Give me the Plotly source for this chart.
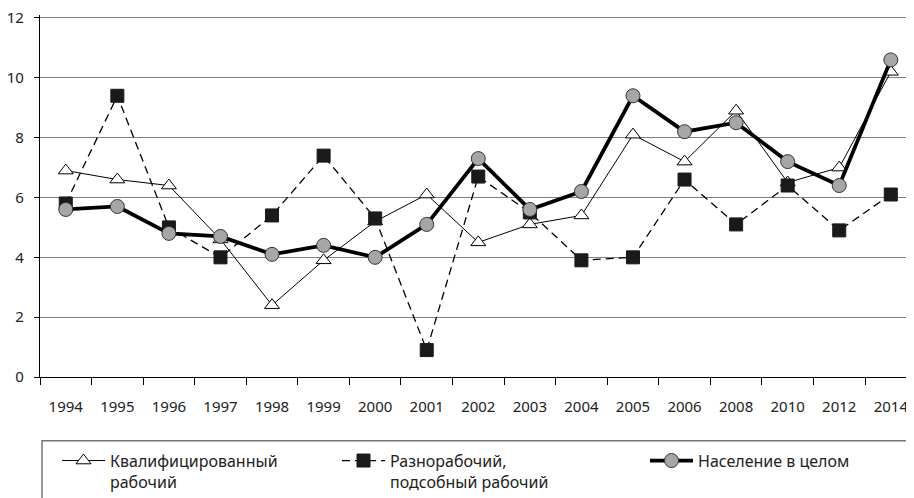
import plotly.graph_objects as go

years = ["1994", "1995", "1996", "1997", "1998", "1999", "2000", "2001", "2002",
         "2003", "2004", "2005", "2006", "2008", "2010", "2012", "2014"]
skilled = [6.9, 6.6, 6.4, 4.6, 2.4, 3.9, 5.2, 6.1, 4.5, 5.1, 5.4, 8.1, 7.2, 8.9, 6.5, 7.0, 10.2]
unskilled = [5.8, 9.4, 5.0, 4.0, 5.4, 7.4, 5.3, 0.9, 6.7, 5.5, 3.9, 4.0, 6.6, 5.1, 6.4, 4.9, 6.1]
population = [5.6, 5.7, 4.8, 4.7, 4.1, 4.4, 4.0, 5.1, 7.3, 5.6, 6.2, 9.4, 8.2, 8.5, 7.2, 6.4, 10.6]
yticks = [0, 2, 4, 6, 8, 10, 12]

name1 = "Квалифицированный<br>рабочий"
name2 = "Разнорабочий,<br>подсобный рабочий"
name3 = "Население в целом"

FONT = "Noto Sans"

fig = go.Figure()
fig.add_trace(go.Scatter(
    x=years, y=skilled, mode="lines+markers", name=name1, legend="legend",
    line=dict(color="black", width=1),
    marker=dict(symbol="triangle-up", size=13, color="white", line=dict(color="black", width=1)),
))
fig.add_trace(go.Scatter(
    x=years, y=unskilled, mode="lines+markers", name=name2, legend="legend2",
    line=dict(color="black", width=1.3, dash="8px,5px"),
    marker=dict(symbol="square", size=13, color="#1a1a1a", line=dict(color="#1a1a1a", width=1)),
))
fig.add_trace(go.Scatter(
    x=years, y=population, mode="lines+markers", name=name3, legend="legend3",
    line=dict(color="black", width=3.8),
    marker=dict(symbol="circle", size=14, color="#a6a6a6", line=dict(color="#333333", width=1)),
))

# plot area geometry in on-screen pixels (page has an 8px body offset)
X0, X1 = 40.0, 914.0          # left / right edge of plot area
Y_TOP, Y_BOT = 15.0, 377.3    # top / bottom edge of plot area

def px2paper_x(px):
    return (px - X0) / (X1 - X0)

def py2paper_y(py):
    return (Y_BOT - py) / (Y_BOT - Y_TOP)

legend_common = dict(
    orientation="v", xanchor="left", yanchor="top", bgcolor="rgba(0,0,0,0)",
    borderwidth=0, font=dict(family=FONT, size=16, color="#222"),
    itemwidth=43, valign="top", itemclick=False,
)

fig.update_layout(
    width=906, height=490,
    margin=dict(l=X0 - 8, r=0, t=Y_TOP - 8, b=490 - (Y_BOT - 8), pad=0, autoexpand=False),
    paper_bgcolor="white", plot_bgcolor="white",
    font=dict(family=FONT, size=15, color="#222"),
    showlegend=True,
    legend=dict(x=px2paper_x(57), y=py2paper_y(444), **legend_common),
    legend2=dict(x=px2paper_x(337), y=py2paper_y(444), **legend_common),
    legend3=dict(x=px2paper_x(645), y=py2paper_y(444), **legend_common),
    xaxis=dict(
        type="category", range=[-0.5, 16.45], showgrid=False, automargin=False,
        showline=True, linecolor="black", linewidth=1.3,
        ticks="outside", tickson="boundaries", ticklen=7, tickcolor="black", tickwidth=1,
        ticklabelstandoff=16, ticklabeloverflow="allow",
        tickfont=dict(family=FONT, size=15, color="#222"),
    ),
    yaxis=dict(
        range=[0, 12.1], tickvals=yticks, ticktext=[str(v) for v in yticks], automargin=False,
        showgrid=True, gridcolor="#808080", gridwidth=1.3,
        showline=True, linecolor="black", linewidth=1.3,
        ticks="outside", ticklen=5, tickcolor="black", tickwidth=1,
        ticklabelstandoff=7, ticklabeloverflow="allow",
        tickfont=dict(family=FONT, size=15, color="#222"),
        zeroline=False,
    ),
    shapes=[dict(
        type="rect", xref="paper", yref="paper",
        x0=px2paper_x(42), x1=1.05, y0=py2paper_y(441), y1=py2paper_y(520),
        line=dict(color="#777777", width=1.5), fillcolor="rgba(0,0,0,0)", layer="below",
    )],
)

fig.write_html("out.html")
